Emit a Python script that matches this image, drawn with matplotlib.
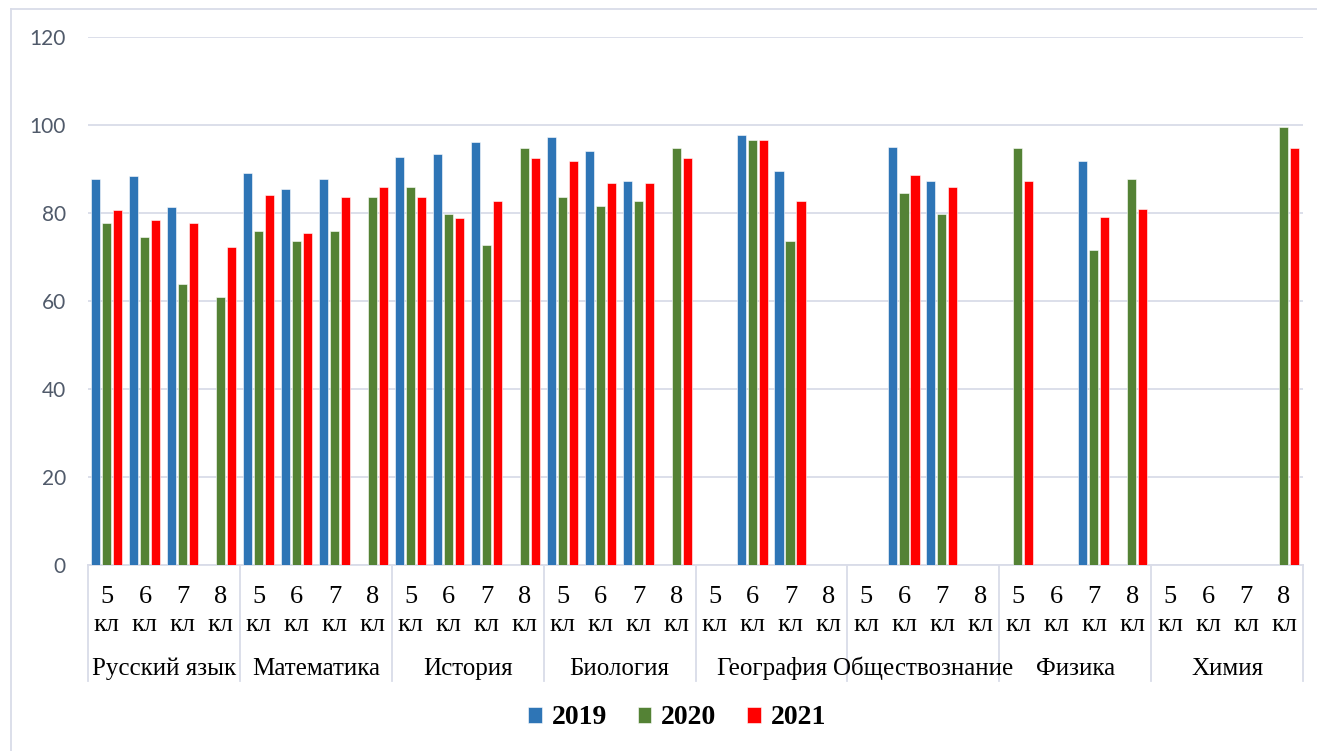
import numpy as np
import matplotlib
matplotlib.use('Agg')
import matplotlib.pyplot as plt
from matplotlib.lines import Line2D

nan = np.nan

subjects = ['Русский язык', 'Математика', 'История', 'Биология',
            'География', 'Обществознание', 'Физика', 'Химия']
grades = ['5', '6', '7', '8']
years = ['2019', '2020', '2021']

# values per subject, grades 5..8
v2019 = [87.7, 88.3, 81.3, nan,
         89.2, 85.4, 87.7, nan,
         92.8, 93.3, 96.1, nan,
         97.2, 94.2, 87.3, nan,
         nan, 97.7, 89.6, nan,
         nan, 95.1, 87.3, nan,
         nan, nan, 91.9, nan,
         nan, nan, nan, nan]
v2020 = [77.8, 74.6, 63.8, 60.9,
         76.0, 73.6, 76.0, 83.6,
         85.9, 79.7, 72.7, 94.7,
         83.6, 81.7, 82.7, 94.7,
         nan, 96.7, 73.6, nan,
         nan, 84.5, 79.7, nan,
         94.7, nan, 71.7, 87.7,
         nan, nan, nan, 99.5]
v2021 = [80.6, 78.3, 77.8, 72.3,
         84.0, 75.5, 83.6, 85.9,
         83.6, 78.8, 82.7, 92.4,
         91.9, 86.8, 86.8, 92.4,
         nan, 96.5, 82.7, nan,
         nan, 88.6, 85.9, nan,
         87.3, nan, 79.2, 80.8,
         nan, nan, nan, 94.7]

colors = ['#2e75b6', '#548235', '#ff0000']
GRID = '#d9dce8'
TICK = '#505a6a'
SERIF = 'Liberation Serif'

W, H = 1317, 751
fig = plt.figure(figsize=(W / 100, H / 100), dpi=100, facecolor='white')
ax = fig.add_axes([88 / W, 1 - 565 / H, (1303 - 88) / W, (565 - 37) / H])

n = len(subjects) * len(grades)
x = np.arange(n)
bw = 0.24
offs = [-0.3, -0.01, 0.28]
handles = []
for vals, off, c, lab in zip([v2019, v2020, v2021], offs, colors, years):
    b = ax.bar(x + off, vals, width=bw, color=c, edgecolor='white',
               linewidth=0.4, label=lab, zorder=3)
    handles.append(b)

ax.set_xlim(-0.5, n - 0.5)
ax.set_ylim(0, 120)
ax.set_yticks(np.arange(0, 121, 20))
ax.yaxis.grid(True, color=GRID, lw=1.3, zorder=0)
ax.tick_params(axis='y', length=0, pad=16, labelsize=15, labelcolor=TICK)
for lbl in ax.get_yticklabels():
    lbl.set_family('Lato')

ax.set_xticks(x)
ax.set_xticklabels([f'{g}\nкл' for _ in subjects for g in grades],
                   family=SERIF, fontsize=19, linespacing=1.35)
ax.tick_params(axis='x', length=0, pad=15)

for s in ['top', 'right', 'left']:
    ax.spines[s].set_visible(False)
ax.spines['bottom'].set_color(GRID)
ax.spines['bottom'].set_linewidth(1.3)

# group separators and group names under the axis
axh = 565 - 37
sep_y = -(681 - 565) / axh
for i in range(len(subjects) + 1):
    xs = i * len(grades) - 0.5
    ax.plot([xs, xs], [0, sep_y], color=GRID, lw=1.3, clip_on=False,
            transform=ax.get_xaxis_transform())
for i, name in enumerate(subjects):
    xc = i * len(grades) + 1.5
    ax.text(xc, -(675 - 565) / axh, name, ha='center', va='baseline',
            family=SERIF, fontsize=18, transform=ax.get_xaxis_transform())

leg = fig.legend(handles=handles, labels=years, loc='center',
                 bbox_to_anchor=(677 / W, 1 - 718 / H), ncol=3, frameon=False,
                 prop={'family': SERIF, 'size': 20, 'weight': 'bold'},
                 handlelength=0.5, handleheight=0.5, handletextpad=0.35,
                 columnspacing=1.1)

# chart-area border (left and top edges visible)
fig.add_artist(Line2D([11 / W, 11 / W], [0, 1 - 9 / H], color=GRID, lw=1.3))
fig.add_artist(Line2D([11 / W, 1], [1 - 9 / H, 1 - 9 / H], color=GRID, lw=1.3))

fig.savefig('out.png', dpi=100, facecolor='white')
